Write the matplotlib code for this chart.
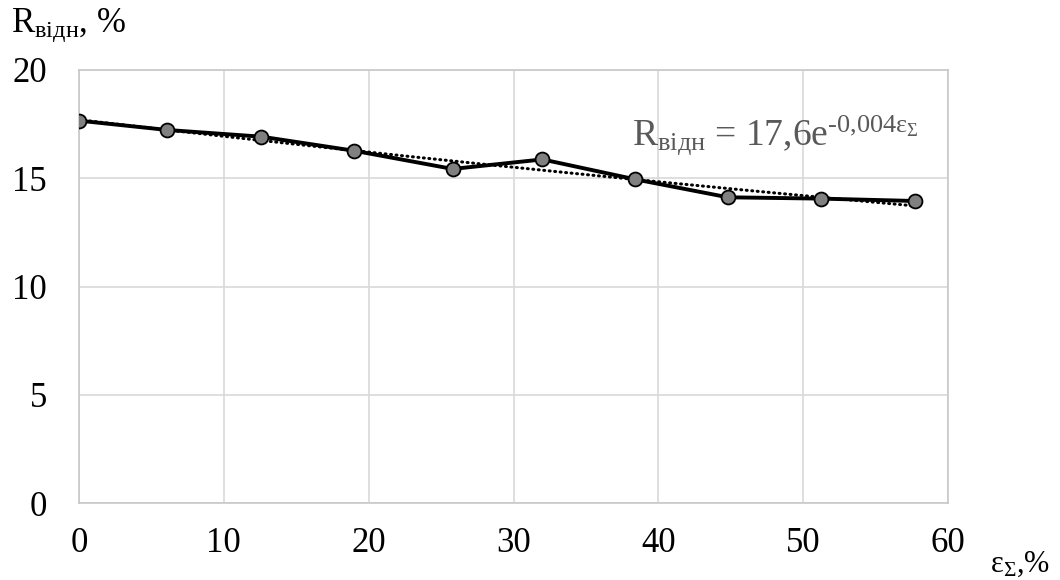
import numpy as np
import matplotlib
matplotlib.use("Agg")
import matplotlib.pyplot as plt

plt.rcParams['font.family'] = ['Liberation Serif', 'DejaVu Serif']
plt.rcParams['mathtext.fontset'] = 'custom'
plt.rcParams['mathtext.rm'] = 'Liberation Serif'
plt.rcParams['mathtext.it'] = 'Liberation Serif:italic'
plt.rcParams['mathtext.bf'] = 'Liberation Serif:bold'

# Total strain, % and relative residual value, %
strain = [0.0, 6.1, 12.6, 19.0, 25.8, 32.0, 38.4, 44.8, 51.2, 57.7]
r_rel = [17.66, 17.23, 16.92, 16.27, 15.43, 15.87, 14.95, 14.12, 14.06, 13.95]

x_ticks = [0, 10, 20, 30, 40, 50, 60]
y_ticks = [0, 5, 10, 15, 20]

fig = plt.figure(figsize=(10.6, 5.8), dpi=100)
ax = fig.add_axes([79 / 1060, 1 - 503 / 580, (948 - 79) / 1060, (503 - 70) / 580])

# exponential trend line fitted to the data
xs = np.array(strain)
ys = np.array(r_rel)
b, ln_a = np.polyfit(xs, np.log(ys), 1)
xt = np.linspace(xs.min(), xs.max(), 200)
ax.plot(xt, np.exp(ln_a) * np.exp(b * xt), color='black', lw=2.2,
        linestyle=(0, (0.3, 1.5)), dash_capstyle='round', zorder=3)

ax.plot(strain, r_rel, color='black', lw=2.8, marker='o', markersize=10,
        markerfacecolor='#808080', markeredgecolor='black', markeredgewidth=1.3,
        zorder=4)

ax.set_xlim(0, 60)
ax.set_ylim(0, 20)
ax.set_xticks(x_ticks)
ax.set_yticks(y_ticks)
ax.tick_params(length=0, labelsize=25)
ax.tick_params(axis='x', pad=17)
ax.tick_params(axis='y', pad=23)
ax.grid(True, color='#d9d9d9', lw=1.2)
ax.set_axisbelow(True)
for s in ax.spines.values():
    s.set_color('#c8c8c8')
    s.set_linewidth(1.2)

fig.text(11 / 1060, 1 - 33 / 580, r'$\mathrm{R_{відн}}$, %', fontsize=25,
         ha='left', va='baseline')
fig.text(990 / 1060, 1 - 572 / 580, r'$\mathrm{ε_{Σ}}$,%', fontsize=22,
         ha='left', va='baseline')
fig.text(632 / 1060, 1 - 145 / 580,
         r'$\mathrm{R_{відн}}$ = 17,6e$^{\text{-0,004}\mathrm{ε_{Σ}}}$',
         fontsize=27, color='#595959', ha='left', va='baseline')

fig.savefig('out.png', dpi=100)
